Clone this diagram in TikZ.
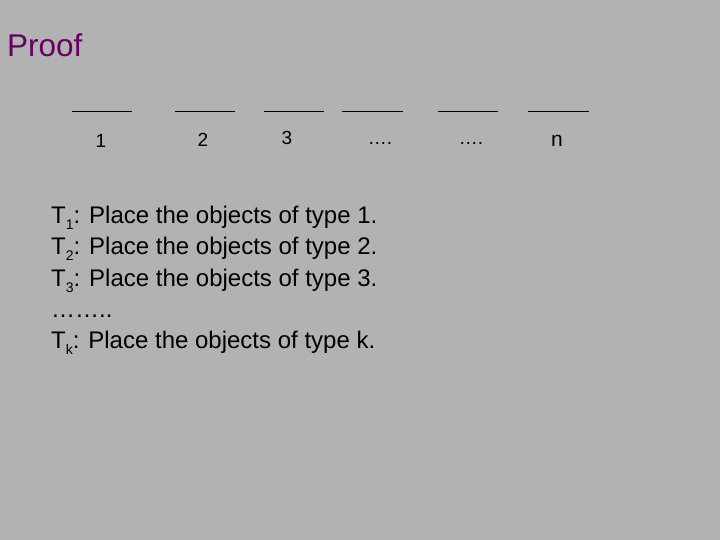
\documentclass[tikz,border=0pt]{standalone}
\usepackage{fontspec}
\setmainfont{Liberation Sans}
\definecolor{bg}{HTML}{B2B2B2}
\definecolor{titlec}{HTML}{660066}
\newcommand{\lowsub}[1]{\raisebox{-0.25em}{\fontsize{14}{16}\selectfont #1}}
\begin{document}
\begin{tikzpicture}[x=1pt,y=-1pt,
  blank/.style={line width=1pt, black},
  lab/.style={font=\fontsize{19}{22}\selectfont, inner sep=0pt, anchor=base},
  body/.style={font=\fontsize{24}{28}\selectfont, anchor=base west, inner sep=0pt}]
\fill[bg] (0,0) rectangle (720,540);
\useasboundingbox (0,0) rectangle (720,540);
\node[anchor=base west, inner sep=0pt, font=\fontsize{31.5}{36}\selectfont, text=titlec] (title) at (7,57) {Proof};
\foreach \a/\b/\n in {72/132/b1,175/235/b2,264/324/b3,342/403/b4,438/498/b5,528/589/b6}
  \draw[blank] (\a,112) -- (\b,112) coordinate (\n);
\node[lab] (l1) at (101,148) {1};
\node[lab] (l2) at (203,147) {2};
\node[lab] (l3) at (287,145) {3};
\node[lab] (l4) at (380,145) {….};
\node[lab] (l5) at (471,145) {….};
\node[lab, font=\fontsize{21}{24}\selectfont] (l6) at (557,147) {n};
\node[body] (t1) at (51,223) {T\lowsub{1}: Place the objects of type 1.};
\node[body] (t2) at (51,254.5) {T\lowsub{2}: Place the objects of type 2.};
\node[body] (t3) at (51,286) {T\lowsub{3}: Place the objects of type 3.};
\node[body] (t4) at (51,317) {……..};
\node[body] (t5) at (51,348) {T\lowsub{k}: Place the objects of type k.};
\end{tikzpicture}
\end{document}
